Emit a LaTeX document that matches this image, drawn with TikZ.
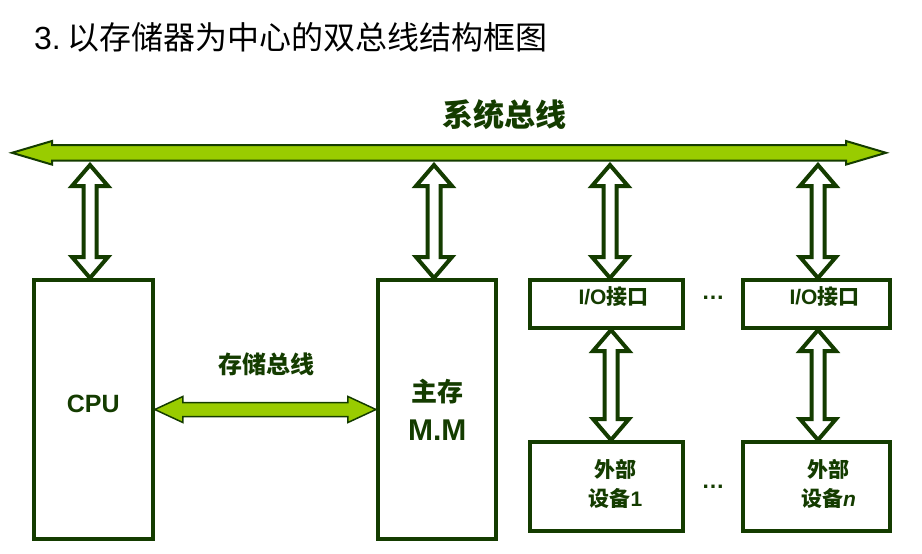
\documentclass[tikz,border=0pt]{standalone}
\usepackage{fontspec}
\setmainfont{Liberation Sans}
\newfontfamily\cjk{Noto Sans CJK SC}
\usetikzlibrary{calc}
\definecolor{busgreen}{RGB}{153,204,0}
\definecolor{darkline}{RGB}{20,60,0}

\begin{document}
\begin{tikzpicture}[
    x=1pt, y=-1pt,
    every node/.style={inner sep=0pt},
    unitbox/.style={
        draw=darkline,
        line width=4pt,
        text=darkline,
        font=\bfseries
    },
    fat/.style n args={3}{% head length, half shaft, half head
        line join=miter,
        to path={
            -- ($(\tikztostart)!#1!(\tikztotarget)!#3!90:(\tikztotarget)$)
            -- ($(\tikztostart)!#1!(\tikztotarget)!#2!90:(\tikztotarget)$)
            -- ($(\tikztotarget)!#1!(\tikztostart)!#2!-90:(\tikztostart)$)
            -- ($(\tikztotarget)!#1!(\tikztostart)!#3!-90:(\tikztostart)$)
            -- (\tikztotarget)
            -- ($(\tikztotarget)!#1!(\tikztostart)!#3!90:(\tikztostart)$)
            -- ($(\tikztotarget)!#1!(\tikztostart)!#2!90:(\tikztostart)$)
            -- ($(\tikztostart)!#1!(\tikztotarget)!#2!-90:(\tikztotarget)$)
            -- ($(\tikztostart)!#1!(\tikztotarget)!#3!-90:(\tikztotarget)$)
            -- cycle
        }
    },
    hollow/.style={fat={21pt}{6.5pt}{18pt}, draw=darkline, fill=white, line width=4pt},
    greenbus/.style={fat={40pt}{7.8pt}{11.8pt}, draw=darkline, fill=busgreen, line width=2pt},
    membus/.style={fat={28pt}{7pt}{13pt}, draw=darkline, fill=busgreen, line width=1.5pt},
    buslabel/.style={text=darkline, font=\cjk\bfseries},
    iotext/.style={text=darkline, font=\fontsize{21}{26}\selectfont\bfseries},
    devtext/.style={text=darkline, align=center, font=\fontsize{21}{29}\selectfont\bfseries},
    dots/.style={text=darkline, font=\fontsize{23}{26}\selectfont\bfseries}
]
\useasboundingbox (0,0) rectangle (922,554);

% title
\node[anchor=west, font=\fontsize{32}{38}\selectfont] (title) at (34,37)
    {3.\hspace{7pt}{\cjk 以存储器为中心的双总线结构框图}};

% system bus
\coordinate (busL) at (12,152.8);
\coordinate (busR) at (886,152.8);
\draw[greenbus] (busL) to (busR);
\node[buslabel, font=\cjk\bfseries\fontsize{31}{36}\selectfont] (sysbus) at (504,115) {系统总线};

% units
\node[unitbox, minimum width=119pt, minimum height=259pt, text depth=12pt, font=\fontsize{25}{30}\selectfont\bfseries] (cpu) at (93.3,409.5) {CPU};
\node[unitbox, minimum width=118.5pt, minimum height=259pt, align=center, font=\fontsize{26}{39}\selectfont\bfseries] (mm) at (437.2,409.5)
    {{\cjk 主存}\\{\fontsize{30}{39}\selectfont M.M}};
\node[unitbox, minimum width=153pt, minimum height=48pt] (io1) at (606.5,304) {};
\node[unitbox, minimum width=147pt, minimum height=48pt] (io2) at (816.5,304) {};
\node[unitbox, minimum width=153pt, minimum height=89pt] (ext1) at (606.5,486.5) {};
\node[unitbox, minimum width=147pt, minimum height=89pt] (ext2) at (816.5,486.5) {};

\node[iotext] (io1text) at ($(io1)+(7,-7)$) {I/O{\cjk 接口}};
\node[iotext] (io2text) at ($(io2)+(8,-7)$) {I/O{\cjk 接口}};
\node[devtext] (ext1text) at ($(ext1)+(9,-3)$) {{\cjk 外部}\\{\cjk 设备}1};
\node[devtext] (ext2text) at ($(ext2)+(12,-3)$) {{\cjk 外部}\\{\cjk 设备}\textit{n}};
\node[dots] (dotsA) at (713,298) {…};
\node[dots] (dotsB) at (713,487) {…};

% memory bus
\draw[membus] (cpu.east) to (mm.west);
\node[buslabel, font=\cjk\bfseries\fontsize{24}{28}\selectfont] (memlabel) at (266,364) {存储总线};

% taps on the system bus
\coordinate (cpuTap) at (90,165);
\coordinate (cpuIn) at (cpuTap |- cpu.north);
\coordinate (mmTap) at (434,165);
\coordinate (mmIn) at (mmTap |- mm.north);
\coordinate (io1Tap) at (610,165);
\coordinate (io1In) at (io1Tap |- io1.north);
\coordinate (io2Tap) at (818,165);
\coordinate (io2In) at (io2Tap |- io2.north);
\draw[hollow] (cpuTap) to (cpuIn);
\draw[hollow] (mmTap) to (mmIn);
\draw[hollow] (io1Tap) to (io1In);
\draw[hollow] (io2Tap) to (io2In);

% interfaces to devices
\coordinate (io1Out) at ($(io1.south)+(4.5,0)$);
\coordinate (ext1In) at (io1Out |- ext1.north);
\coordinate (io2Out) at ($(io2.south)+(1.5,0)$);
\coordinate (ext2In) at (io2Out |- ext2.north);
\draw[hollow] (io1Out) to (ext1In);
\draw[hollow] (io2Out) to (ext2In);
\end{tikzpicture}
\end{document}
